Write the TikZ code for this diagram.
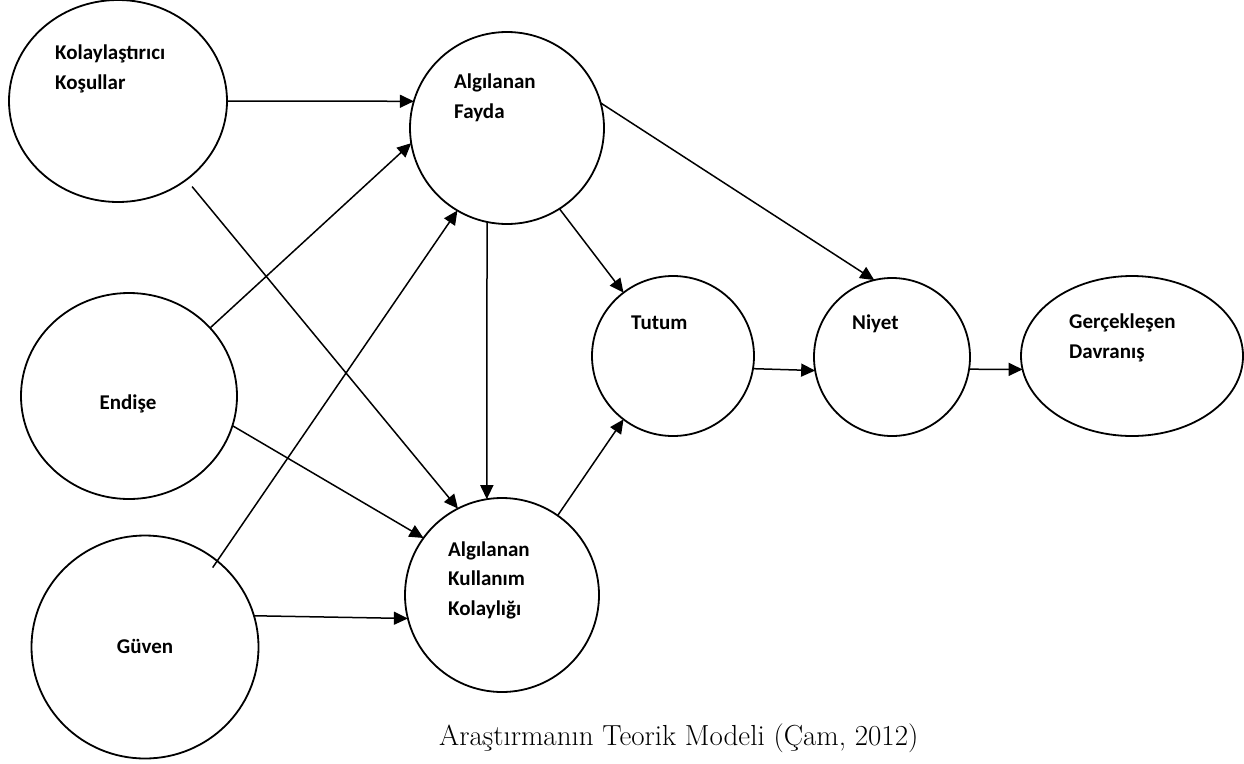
\documentclass[tikz,border=0pt]{standalone}
\usepackage{fontspec}
\newfontfamily\lblfont{Carlito}
\usetikzlibrary{arrows.meta,shapes.geometric}
\begin{document}
\begin{tikzpicture}[x=1pt,y=-1pt,
  bub/.style={draw, ellipse, line width=1.8pt, inner sep=0pt, outer sep=0pt},
  lbl/.style={font=\lblfont\bfseries\fontsize{21}{29.5}\selectfont, inner sep=0pt, align=left, anchor=base west},
  arr/.style={line width=1.5pt, -{Triangle[length=14pt,width=13pt]}}]
\useasboundingbox[fill=white] (0,0) rectangle (1244,763);
% circles
\node[bub, minimum width=218pt, minimum height=202pt] (kol) at (118,101) {};
\node[bub, minimum width=194pt, minimum height=192pt] (fay) at (507,128) {};
\node[bub, minimum width=216pt, minimum height=206pt] (end) at (129,396) {};
\node[bub, minimum width=227pt, minimum height=223pt] (guv) at (145,647) {};
\node[bub, minimum width=194pt, minimum height=194pt] (akk) at (502,595) {};
\node[bub, minimum width=162pt, minimum height=160pt] (tut) at (673,356) {};
\node[bub, minimum width=156pt, minimum height=158pt] (niy) at (892,357) {};
\node[bub, minimum width=222pt, minimum height=160pt] (ger) at (1132,356) {};
% labels (base = baseline of the last line)
\node[lbl] (tkol) at (55,89) {Kolaylaştırıcı\\Koşullar};
\node[lbl] (tfay) at (454,118) {Algılanan\\Fayda};
\node[lbl, anchor=base] (tend) at (128,409) {Endişe};
\node[lbl, anchor=base] (tguv) at (145,653) {Güven};
\node[lbl] (takk) at (448,615) {Algılanan\\Kullanım\\Kolaylığı};
\node[lbl] (ttut) at (631,329) {Tutum};
\node[lbl] (tniy) at (852,329) {Niyet};
\node[lbl] (tger) at (1069,358) {Gerçekleşen\\Davranış};
\node[font=\fontsize{29}{32}\selectfont, inner sep=0pt, anchor=base west] (cap) at (439,745) {Araştırmanın Teorik Modeli (Çam, 2012)};
% connectors
\draw[arr] (kol.0) -- (fay.164);
\draw[arr, shorten <=9pt] (kol.-49) -- (akk.117);
\draw[arr] (end.40) -- (fay.189);
\draw[arr] (end.-16) -- (akk.144);
\draw[arr, shorten <=-8pt] (guv.50) -- (fay.239);
\draw[arr] (guv.16) -- (akk.194);
\draw[arr] (fay.-102) -- (akk.99);
\draw[arr] (fay.-57) -- (tut.128);
\draw[arr] (akk.55) -- (tut.232);
\draw[arr] (fay.15) -- (niy.103);
\draw[arr] (tut.-9) -- (niy.190);
\draw[arr] (niy.-9) -- (ger.187);
\end{tikzpicture}
\end{document}
